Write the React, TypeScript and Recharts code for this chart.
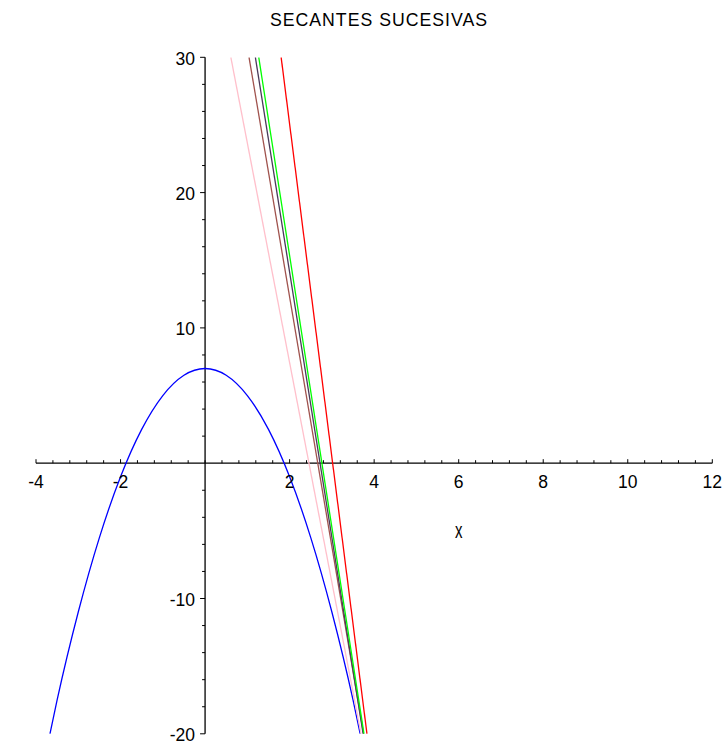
import React from "react";
import { LineChart, Line, XAxis, YAxis, ReferenceLine, ReferenceDot } from "recharts";

// Parabola points
const curveX = [-3.67, -3.5, -3, -2.5, -2, -1.5, -1, -0.5, 0, 0.5, 1, 1.5, 2, 2.5, 3, 3.5, 3.67];
const curveY = [-20, -17.5, -11, -5.5, -1, 2.5, 5, 6.5, 7, 6.5, 5, 2.5, -1, -5.5, -11, -17.5, -20];

// Secant lines: endpoints read at the top (y=30) and bottom (y=-20) of the frame
const pinkLine = [{ x: 0.61, y: 30 }, { x: 3.69, y: -20 }];
const brownLine = [{ x: 1.04, y: 30 }, { x: 3.75, y: -20 }];
const darkLine = [{ x: 1.19, y: 30 }, { x: 3.74, y: -20 }];
const greenLine = [{ x: 1.27, y: 30 }, { x: 3.76, y: -20 }];
const redLine = [{ x: 1.8, y: 30 }, { x: 3.83, y: -20 }];

const xMinorTicks = [-4, -3.6, -3.2, -2.8, -2.4, -2, -1.6, -1.2, -0.8, -0.4, 0, 0.4, 0.8, 1.2, 1.6, 2, 2.4, 2.8, 3.2, 3.6, 4, 4.4, 4.8, 5.2, 5.6, 6, 6.4, 6.8, 7.2, 7.6, 8, 8.4, 8.8, 9.2, 9.6, 10, 10.4, 10.8, 11.2, 11.6, 12];
const xLabels = [-4, -2, 2, 4, 6, 8, 10, 12];
const yMinorTicks = [-20, -18, -16, -14, -12, -10, -8, -6, -4, -2, 2, 4, 6, 8, 10, 12, 14, 16, 18, 20, 22, 24, 26, 28, 30];
const yLabels = [-20, -10, 10, 20, 30];

const curveData = curveX.map((x, i) => ({ x, y: curveY[i] }));

const FONT = "'Liberation Sans', Arial, sans-serif";

const xTickShape = (major: boolean, label?: number) => (p: any) => (
  <g>
    <line x1={p.cx} y1={p.cy} x2={p.cx} y2={p.cy - (major ? 4 : 3)} stroke="#000" strokeWidth={1} />
    {label !== undefined && (
      <text x={p.cx} y={p.cy + 25} textAnchor="middle" fontFamily={FONT} fontSize={17.5} fill="#000">
        {String(label)}
      </text>
    )}
  </g>
);

const yTickShape = (major: boolean, label?: number) => (p: any) => (
  <g>
    <line x1={p.cx} y1={p.cy} x2={p.cx - (major ? 5 : 3)} y2={p.cy} stroke="#000" strokeWidth={1} />
    {label !== undefined && (
      <text x={p.cx - 10} y={p.cy + 7.4} textAnchor="end" fontFamily={FONT} fontSize={17.5} fill="#000">
        {String(label)}
      </text>
    )}
  </g>
);

const xNameShape = (p: any) => (
  <text
    transform={`translate(${p.cx},${p.cy + 69.2}) scale(1,1.5)`}
    y={3.9}
    textAnchor="middle"
    fontFamily={FONT}
    fontSize={15}
    fill="#000"
  >
    x
  </text>
);

const W = 1.3;

export default function App() {
  return (
    <div style={{ position: "relative", width: 723, height: 744, background: "#fff" }}>
      <style>{`body { margin: 0; } svg { overflow: visible; }`}</style>
      <div
        style={{
          position: "absolute",
          left: 0,
          width: 758,
          top: 10,
          lineHeight: "20px",
          textAlign: "center",
          fontFamily: FONT,
          fontSize: 17.7,
          letterSpacing: 1,
          color: "#000",
        }}
      >
        SECANTES SUCESIVAS
      </div>
      <LineChart width={723} height={744} margin={{ top: 57.3, right: 10.7, bottom: 10.2, left: 36 }}>
        <XAxis type="number" dataKey="x" domain={[-4, 12]} hide allowDataOverflow />
        <YAxis type="number" dataKey="y" domain={[-20, 30]} hide allowDataOverflow />
        <ReferenceLine y={0} stroke="#000" strokeWidth={1.3} />
        <ReferenceLine x={0} stroke="#000" strokeWidth={1.3} />
        {xMinorTicks.map((t) => (
          <ReferenceDot key={"xt" + t} x={t} y={0} r={1} shape={xTickShape(xLabels.includes(t), xLabels.includes(t) ? t : undefined)} />
        ))}
        {yMinorTicks.map((t) => (
          <ReferenceDot key={"yt" + t} x={0} y={t} r={1} shape={yTickShape(yLabels.includes(t), yLabels.includes(t) ? t : undefined)} />
        ))}
        <ReferenceDot x={6} y={0} r={1} shape={xNameShape} />
        <Line data={curveData} dataKey="y" type="monotone" stroke="#0000FF" strokeWidth={W} dot={false} isAnimationActive={false} />
        <Line data={pinkLine} dataKey="y" type="linear" stroke="#FFC0CB" strokeWidth={W} dot={false} isAnimationActive={false} />
        <Line data={brownLine} dataKey="y" type="linear" stroke="#A0524D" strokeWidth={W} dot={false} isAnimationActive={false} />
        <Line data={darkLine} dataKey="y" type="linear" stroke="#4A3A5A" strokeWidth={W} dot={false} isAnimationActive={false} />
        <Line data={greenLine} dataKey="y" type="linear" stroke="#00FF00" strokeWidth={W} dot={false} isAnimationActive={false} />
        <Line data={redLine} dataKey="y" type="linear" stroke="#FF0000" strokeWidth={W} dot={false} isAnimationActive={false} />
      </LineChart>
    </div>
  );
}
